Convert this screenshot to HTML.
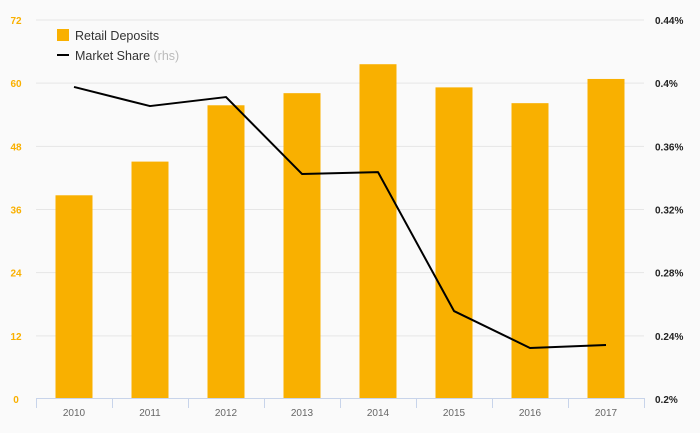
<!DOCTYPE html>
<html><head><meta charset="utf-8"><style>
body{margin:0;background:#fafafa;font-family:"Liberation Sans",sans-serif;}
svg{display:block}
</style></head><body>
<svg id="chart" width="700" height="433" viewBox="0 0 700 433" xmlns="http://www.w3.org/2000/svg">
<rect width="700" height="433" fill="#fafafa"/>
<g id="grid"></g><g id="bars"></g><g id="line"></g><g id="axes"></g>
<g>
<rect x="57" y="29" width="12" height="12" fill="#f9b000"/>
<text x="75" y="40" font-size="12.5" fill="#333">Retail Deposits</text>
<rect x="57" y="54" width="12" height="2" fill="#000"/>
<text x="75" y="60" font-size="12.5" fill="#333">Market Share <tspan fill="#bbb">(rhs)</tspan></text>
</g>
</svg>
<script>
const categories=["2010","2011","2012","2013","2014","2015","2016","2017"];
const deposits=[38.7,45.1,55.8,58.1,63.6,59.2,56.2,60.8];
const marketShare=[0.3976,0.3855,0.3912,0.3425,0.3437,0.2557,0.2323,0.2342];
const leftTicks=[0,12,24,36,48,60,72];
const rightTicks=[0.2,0.24,0.28,0.32,0.36,0.4,0.44];
const NS="http://www.w3.org/2000/svg";
const x0=36,x1=644,yTop=20,yBot=399;
const band=(x1-x0)/categories.length;
const xc=i=>x0+band*(i+0.5);
const yL=v=>yBot-(v/72)*(yBot-yTop);
const yR=v=>yBot-((v-0.2)/0.24)*(yBot-yTop);
function mk(tag,attrs,parent){const e=document.createElementNS(NS,tag);for(const k in attrs)e.setAttribute(k,attrs[k]);document.getElementById(parent).appendChild(e);return e;}
leftTicks.forEach((t,i)=>{
 const y=yL(t);
 if(t>0){const g=mk("line",{x1:x0,x2:x1,y1:y,y2:y,stroke:"#e6e6e6","stroke-width":1},"grid");
 
 }
 const l=mk("text",{x:16,y:y+4,"font-size":10,fill:"#f9b000","text-anchor":"middle","font-weight":"bold"},"axes");
 l.textContent=t;
 
 
});
rightTicks.forEach(t=>{
 const l=mk("text",{x:655,y:yR(t)+4,"font-size":10,fill:"#222","font-weight":"bold"},"axes");
 l.textContent=(Math.round(t*100)/100)+"%";
 
 
});
const ax=mk("line",{x1:x0,x2:x1,y1:yBot-0.5,y2:yBot-0.5,stroke:"#c8d4ea","stroke-width":1},"axes");


for(let i=0;i<=categories.length;i++){
 const tk=mk("line",{x1:x0+band*i+0.5,x2:x0+band*i+0.5,y1:yBot-1,y2:yBot+9,stroke:"#c8d4ea","stroke-width":1},"axes");
 
 
}
categories.forEach((c,i)=>{
 const b=mk("rect",{x:xc(i)-18.5,y:yL(deposits[i]),width:37,height:yBot-yL(deposits[i]),fill:"#f9b000"},"bars");
 
 
 const l=mk("text",{x:xc(i),y:416,"font-size":10,fill:"#666","text-anchor":"middle"},"axes");
 l.textContent=c;
 
 
});
const pts=marketShare.map((v,i)=>xc(i)+","+yR(v)).join(" ");
const pl=mk("polyline",{points:pts,fill:"none",stroke:"#000","stroke-width":2,"stroke-linejoin":"round"},"line");


</script>
</body></html>
